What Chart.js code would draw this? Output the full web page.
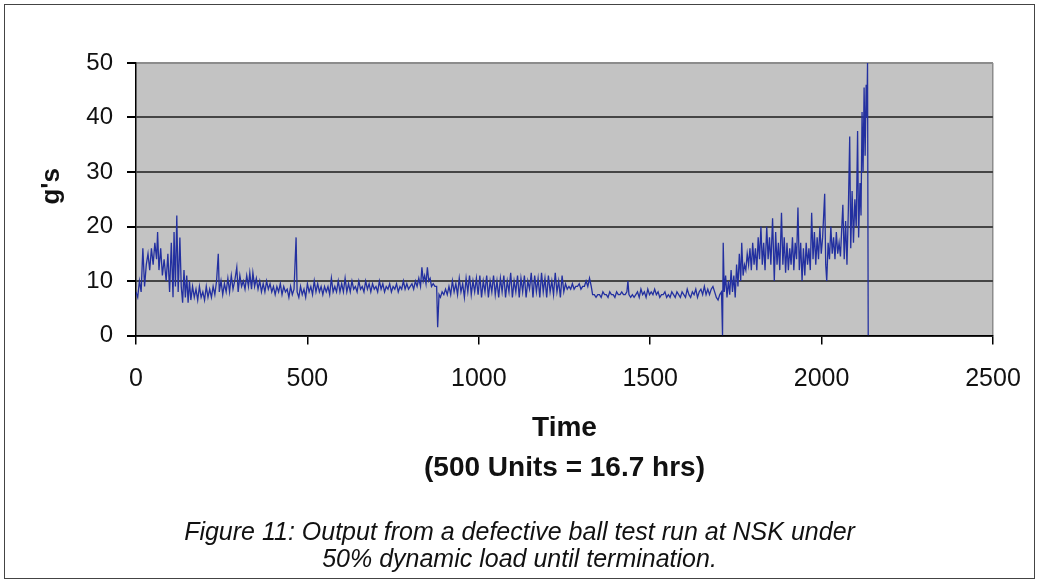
<!DOCTYPE html>
<html>
<head>
<meta charset="utf-8">
<script src="https://cdn.jsdelivr.net/npm/chart.js@4.4.0/dist/chart.umd.min.js"></script>
<style>
  html, body { margin: 0; padding: 0; background: #fff; }
  #frame { position: absolute; left: 4px; top: 4px; width: 1029px; height: 573px; border: 1px solid #444; }
  #chart { position: absolute; left: 0; top: 0; }
  #caption { position: absolute; left: 0; top: 518px; width: 1039px; text-align: center;
    font: italic 25px 'Liberation Sans', Arial, sans-serif; line-height: 27px; color: #111; }
</style>
</head>
<body>
<div id="frame"></div>
<canvas id="chart" width="1039" height="583"></canvas>
<div id="caption">Figure 11: Output from a defective ball test run at NSK under<br>50% dynamic load until termination.</div>
<script>
// time units (500 units = 16.7 hrs)
const times = [
  0,5,10,15,20,25,30,35,40,45, 50,55,60,63,67,72,77,82,88,93, 98,103,108,111,115,119,123,128,132,
  136,140,144,148,152,156,160,165,170,175, 180,185,190,195,200,205,210,215,220,225, 230,235,
  240,243,248,253,258,263,268,273,278,283, 288,294,298,303,308,313,318,323,328,332,
  337,341,346,351,356,361,366,371,376,381, 386,391,396,401,406,411,416,421,426,431,
  436,441,446,451,456,461,467,470,
  475,480,485,490,495,500,505,510,515,520, 525,530,535,540,545,550,555,560,565,570,
  575,580,585,590,595,600,605,610,615,620, 625,630,635,640,645,650,655,660,665,670,
  675,680,685,690,695,700,705,710,715,720, 725,730,735,740,745,750,755,760,765,770,
  775,780,785,790,795,800,805,810,815,820, 825,830,
  834,838,842,846,850,854,858,862,867,872, 877,880,
  884,888,
  893,898,903,908,913,918,923,928,933,938, 943,948,953,958,963,968,973,978,983,988,
  993,998,1003,1008,1013,1018,1023,1028,1033,1038, 1043,1048,1053,1058,1063,1068,1073,1078,1083,1088,
  1093,1098,1103,1108,1113,1118,1123,1128,1133,1138, 1143,1148,1153,1158,1163,1168,1173,1178,1183,1188,
  1193,1198,1203,1208,1213,1218,1223,1228,1233,1238, 1243,1248,
  1253,1258,1263,1268,1273,1278,1283,1288,1293,1298, 1303,1308,1313,1318,1323,1328,
  1332,1337,1342,1347,1352,1357,1362,1367,1372,1377, 1382,1387,1392,1397,1402,1407,1412,1417,1422,1427,
  1432,1435,1438,1443,1448,1453,1458,1463,1468,1473, 1478,1483,1488,1493,1498,1503,1508,1513,1518,1523,
  1528,1533,1538,1543,1548,1553,1558,1563,1568,1573, 1578,1583,1588,1593,1598,1603,1608,1613,1618,1623,
  1628,1633,1638,1643,1648,1653,1658,1663,1668,1673, 1678,1683,1688,1693,1698,1703,1708,
  1711,1713,1716,1720,1724,1728,1732,1736,1740,1744, 1748,1752,1756,1760,1764,1767,1771,1775,1779,1783,
  1787,1791,1795,1799,1803,1807,1811,1815,1819,1823, 1827,1831,1835,1840,1844,1848,1852,1857,1862,1866,
  1870,1874,1878,1883,1887,1891,1895,1899,1903,1907, 1911,1915,1919,1923,1927,1931,1935,1939,1943,1947,
  1951,1955,1959,1963,1967,1971,1975,1979,1983,1987, 1991,1995,1999,2003,2009,2012,2015,2019,2023,2027,
  2031,2035,2039,2043,2047,2051,2055,2059,2062,2066, 2070,2074,2078,2082,2085,2089,2093,2097,2101,2105,
  2108,2112,2115,2118,2121,2124,2127,2130,2132,2134, 2136
];

// vibration level in g's
const gLevels = [
  8,7,10,8,16,9,13,15,12,16, 13,17,14,19,12,16,11,14,10,15, 8,17,7,19,9,22,8,18,9,
  6,12,7,11,6,10,6.5,9,7,8.5, 6.5,9,7,8,6.5,9,7,8.5,7,9, 7.5,10,
  15,8,10,7.5,9.5,8,10.5,8,11,8.5, 10,12.5,8,11,9,10,8.5,11,9,11.5,
  8.5,11.5,9,10.5,8.5,10,8,9.5,8,10, 8.5,9.5,8,9,7.5,9,8,9.5,7.5,9,
  8,8.5,7,9,7.5,8.5,18,8,
  7,9,7.5,8.5,7,9.5,8,9,7.5,10, 8,9.5,8,9,7.5,9,8,9,7.5,10.5,
  8,9,8,10,8,9.5,8,10.5,8,9.5, 8,10,8.5,9,8,10,8.5,9,8,10,
  8.5,9.5,8,9.5,8.5,9,8,10,8.5,9.5, 8,9,8.5,9.5,8,9,8.5,9.5,8,9,
  8.5,10,8.5,9.5,8.5,9,9.5,8.5,10,9, 10.5,9,
  12.5,10,11,9.5,12.5,10,10.5,9,9.5,9, 9,1.5,
  7.5,7,
  8,7.5,8.5,7.5,9,7.5,10,8,9.5,7.5, 10.5,8,9.5,7,10.5,8,11,7.5,10,8,
  10.5,7.5,11,7,10,8,11,7,10,8, 11,7.5,10,7,10.5,8,11,7,10,8,
  11.5,7,10,8,11,7,10.5,8,11,7, 10,8.5,11.5,7,11,8,10.5,7,11.5,8,
  10.5,7,11,8,10,7.5,11.5,8,10,7, 11,8,
  9.5,8.5,9,8.5,9.5,8.5,9,9,9.5,8.5, 9,9,10,9,10.5,9,
  7.5,7.5,7,7.5,7.5,7,8,7.5,7.5,7, 8,7.5,7.5,7,8,7.5,7.5,8,7.5,7.5,
  8,10,7.5,7,7.5,7,7.5,8,7,8.5, 7.5,8,7,8.5,7.5,8,7.5,8.5,7.5,8,
  7,7.5,7.5,8,7,7.5,7,8,7.5,7, 8,7.5,7,8,7.5,7,8.5,7.5,7,8,
  7.5,8.5,7,8,8.5,7.5,9,7.5,8.5,7.5, 8.5,9,8,7,6.5,7.5,8,
  0,17,8,11,7,10,7.5,12,8,11, 7,13,9,15,10,17,11,13,12,15,
  13,16,12,17,13,16,12,18,14,20, 13,17,12,20,14,18,13,21.5,10,19,
  13,17,12,22.5,13,18,11.5,17,12,16, 13,18,12,17,14,23.5,12,17,10,16,
  11,17,13,16,12,22.5,14,19,13,18, 14,20,15,18,26,13,10,17,14,20,
  15,18,14,19,15,17,14.5,20,24,14, 21,13,23,36.5,16,26.5,17,25,20,37.5,
  18,28,22,41,30,45.5,33,46,40,50, 0
];

const xTicks = [0, 500, 1000, 1500, 2000, 2500];
const yTicks = [0, 10, 20, 30, 40, 50];

if (times.length !== gLevels.length) console.error('length mismatch', times.length, gLevels.length);

const points = times.map((t, i) => ({ x: t, y: gLevels[i] }));

const plotBackground = {
  id: 'plotBackground',
  beforeDraw(chart) {
    const { ctx, chartArea: a } = chart;
    ctx.save();
    ctx.fillStyle = '#c3c3c3';
    ctx.fillRect(a.left, a.top, a.right - a.left, a.bottom - a.top);
    ctx.restore();
  }
};

const fontFamily = "'Liberation Sans', Arial, sans-serif";

new Chart(document.getElementById('chart'), {
  type: 'line',
  data: {
    datasets: [{
      data: points,
      borderColor: '#2330a0',
      borderWidth: 1.3,
      pointRadius: 0,
      tension: 0,
      fill: false
    }]
  },
  options: {
    responsive: false,
    animation: false,
    events: [],
    layout: { padding: { top: 63, right: 46, left: 0, bottom: 0 } },
    plugins: { legend: { display: false }, tooltip: { enabled: false } },
    scales: {
      x: {
        type: 'linear',
        min: xTicks[0],
        max: xTicks[xTicks.length - 1],
        afterBuildTicks: s => { s.ticks = xTicks.map(v => ({ value: v })); },
        afterFit: s => { s.height = 247.5; s.paddingLeft = 0; s.paddingRight = 0; },
        ticks: {
          font: { family: fontFamily, size: 25 },
          color: '#111',
          padding: 20,
          maxRotation: 0,
          callback: v => String(v)
        },
        grid: {
          color: c => (c.tick && c.tick.value === 2500 ? '#8c8c8c' : 'rgba(0,0,0,0)'),
          tickColor: '#000',
          tickLength: 9,
          lineWidth: 1.5
        },
        border: { color: '#000', width: 1.5 },
        title: {
          display: true,
          text: ['Time', '(500 Units = 16.7 hrs)'],
          font: { family: fontFamily, size: 28, weight: 'bold', lineHeight: '40px' },
          color: '#111',
          padding: { top: 0, bottom: 95 }
        }
      },
      y: {
        min: yTicks[0],
        max: yTicks[yTicks.length - 1],
        afterBuildTicks: s => { s.ticks = yTicks.map(v => ({ value: v })); },
        afterFit: s => { s.width = 136; },
        ticks: { font: { family: fontFamily, size: 24 }, color: '#111', padding: 14 },
        grid: {
          color: c => (c.tick && c.tick.value === 50 ? '#8c8c8c' : '#454545'),
          tickColor: '#000',
          tickLength: 9,
          lineWidth: 2
        },
        border: { color: '#000', width: 1.5 },
        title: {
          display: true,
          text: "\u2002\u2002g's",
          font: { family: fontFamily, size: 26, weight: 'bold' },
          color: '#111',
          padding: { top: 36, bottom: 0 }
        }
      }
    }
  },
  plugins: [plotBackground]
});
</script>
</body>
</html>
